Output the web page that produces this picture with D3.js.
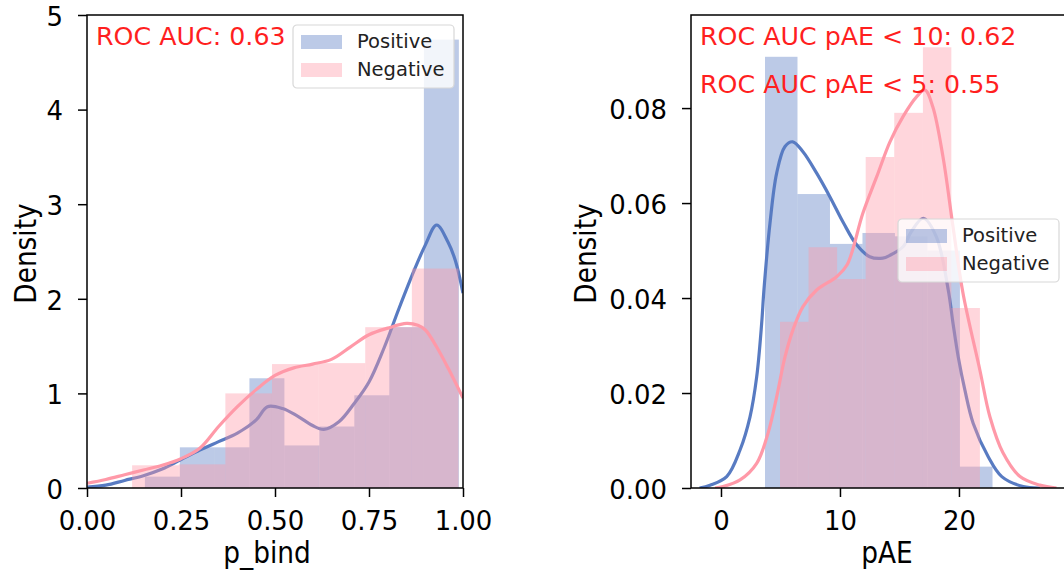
<!DOCTYPE html>
<html>
<head>
<meta charset="utf-8">
<script src="https://cdn.jsdelivr.net/npm/d3@7"></script>
<style>
  body { margin: 0; background: #fff; }
  text { font-family: "DejaVu Sans", sans-serif; }
</style>
</head>
<body>
<svg id="fig" width="1064" height="578"></svg>
<script>
// ---- p_bind panel: histogram bins (edges) and densities ----
const pbindPosEdges = [0.154, 0.247, 0.340, 0.432, 0.525, 0.618, 0.711, 0.804, 0.896, 0.989];
const pbindPosDensity = [0.12, 0.43, 0.43, 1.16, 0.45, 0.65, 0.98, 1.70, 4.74];
const pbindNegEdges = [0.120, 0.244, 0.368, 0.492, 0.616, 0.740, 0.864, 0.988];
const pbindNegDensity = [0.24, 0.25, 1.00, 1.31, 1.32, 1.70, 2.32];

// p_bind KDE curves
const pbindPosKdeX = [0, 0.05, 0.1, 0.15, 0.2, 0.25, 0.3, 0.35, 0.4, 0.45, 0.48, 0.52, 0.56, 0.6, 0.63, 0.67, 0.71, 0.75, 0.79, 0.83, 0.87, 0.9, 0.93, 0.96, 0.98, 1.0];
const pbindPosKdeY = [0.01, 0.03, 0.08, 0.13, 0.2, 0.3, 0.4, 0.49, 0.58, 0.72, 0.86, 0.84, 0.76, 0.66, 0.62, 0.70, 0.89, 1.12, 1.48, 1.9, 2.3, 2.57, 2.78, 2.6, 2.4, 2.06];
const pbindNegKdeX = [0, 0.05, 0.1, 0.15, 0.2, 0.25, 0.3, 0.35, 0.4, 0.45, 0.5, 0.55, 0.6, 0.65, 0.7, 0.75, 0.8, 0.85, 0.88, 0.9, 0.93, 0.96, 1.0];
const pbindNegKdeY = [0.05, 0.09, 0.14, 0.19, 0.24, 0.31, 0.42, 0.65, 0.86, 1.04, 1.19, 1.27, 1.31, 1.36, 1.49, 1.62, 1.69, 1.74, 1.72, 1.67, 1.49, 1.27, 0.95];

// ---- pAE panel: histogram bins (edges) and densities ----
const paePosEdges = [3.70, 6.43, 9.16, 11.89, 14.62, 17.35, 20.08, 22.82];
const paePosDensity = [0.0908, 0.0619, 0.0514, 0.0537, 0.0530, 0.0500, 0.0045];
const paeNegEdges = [4.96, 7.36, 9.76, 12.16, 14.56, 16.97, 19.36, 21.76];
const paeNegDensity = [0.0350, 0.0507, 0.0440, 0.0697, 0.0790, 0.0928, 0.0379];

// pAE KDE curves
const paePosKdeX = [-1.8, -0.92, 0.48, 1.6, 2.44, 3.0, 3.42, 3.61, 4.12, 4.68, 5.38, 6.03, 6.89, 8.04, 9.16, 10.3, 11.4, 12.5, 13.6, 14.2, 15.3, 16.0, 17.0, 18.1, 19.1, 19.5, 19.94, 20.5, 21.2, 22.46, 23.6, 25.4, 26.8];
const paePosKdeY = [0, 0.0006, 0.0024, 0.008, 0.015, 0.0234, 0.0347, 0.0417, 0.0558, 0.0663, 0.0719, 0.0729, 0.0708, 0.0663, 0.0613, 0.0558, 0.0512, 0.0487, 0.0484, 0.049, 0.0508, 0.054, 0.0568, 0.0529, 0.0417, 0.0347, 0.0276, 0.0206, 0.0136, 0.0066, 0.0024, 0.0003, 0];
const paeNegKdeX = [-0.5, 0.17, 1.6, 3.0, 3.95, 4.68, 5.38, 6.05, 6.89, 8.04, 9.72, 10.6, 11.93, 13.08, 14.2, 15.3, 16.45, 17.14, 17.8, 18.66, 19.5, 20.34, 21.76, 22.6, 23.7, 25.13, 26.8, 28.2];
const paeNegKdeY = [0, 0.0003, 0.0017, 0.0052, 0.0115, 0.0192, 0.0276, 0.0333, 0.0382, 0.0417, 0.0445, 0.047, 0.0579, 0.0655, 0.0729, 0.0782, 0.0824, 0.0838, 0.0803, 0.0697, 0.055, 0.041, 0.0248, 0.015, 0.0074, 0.0024, 0.0006, 0];

// ticks and labels
const pbindXTicks = [0, 0.25, 0.5, 0.75, 1.0];
const pbindYTicks = [0, 1, 2, 3, 4, 5];
const paeXTicks = [0, 10, 20];
const paeYTicks = [0, 0.02, 0.04, 0.06, 0.08];
const seriesNames = ["Positive", "Negative"];
const pbindNotes = ["ROC AUC: 0.63"];
const paeNotes = ["ROC AUC pAE < 10: 0.62", "ROC AUC pAE < 5: 0.55"];

const posColor = "#587bc2";
const negColor = "#ff99a8";
const noteColor = "#ff1f1f";
const tickFont = 27;      // tick label size
const titleFont = 30;     // axis title size
const narrow = 0.88;      // horizontal squeeze of axis titles
const tickNarrow = 0.96;  // horizontal squeeze of tick labels

const svg = d3.select("#fig");
svg.append("rect").attr("width", 1064).attr("height", 578).attr("fill", "#fff");

// squeeze a text element horizontally by a fixed factor
function squeeze(sel, k) {
  sel.each(function () {
    const len = this.getComputedTextLength();
    d3.select(this).attr("textLength", len * k).attr("lengthAdjust", "spacingAndGlyphs");
  });
}

function panel(opts) {
  const { left, right, top, bottom, xDomain, yDomain, id } = opts;
  const x = d3.scaleLinear().domain(xDomain).range([left, right]);
  const y = d3.scaleLinear().domain(yDomain).range([bottom, top]);
  const g = svg.append("g");

  svg.append("clipPath").attr("id", id)
    .append("rect").attr("x", left).attr("y", top)
    .attr("width", right - left).attr("height", bottom - top);
  const plot = g.append("g").attr("clip-path", `url(#${id})`);

  const bars = (edges, dens, color) => {
    plot.append("g").selectAll("rect")
      .data(dens.map((d, i) => ({ x0: edges[i], x1: edges[i + 1], d })))
      .join("rect")
      .attr("x", d => x(d.x0))
      .attr("width", d => x(d.x1) - x(d.x0))
      .attr("y", d => y(d.d))
      .attr("height", d => y(0) - y(d.d))
      .attr("fill", color).attr("fill-opacity", 0.4);
  };
  const curve = (xs, ys, color) => {
    const line = d3.line().x(d => x(d[0])).y(d => y(d[1])).curve(d3.curveCatmullRom.alpha(0.5));
    plot.append("path").datum(xs.map((v, i) => [v, ys[i]]))
      .attr("d", line).attr("fill", "none")
      .attr("stroke", color).attr("stroke-width", 3.2).attr("stroke-linejoin", "round");
  };

  bars(opts.posEdges, opts.posDens, posColor);
  curve(opts.posKx, opts.posKy, posColor);
  bars(opts.negEdges, opts.negDens, negColor);
  curve(opts.negKx, opts.negKy, negColor);

  // axes
  const xAxis = g.append("g").attr("transform", `translate(0,${bottom})`)
    .call(d3.axisBottom(x).tickValues(opts.xTicks).tickFormat(opts.xFmt).tickSize(9).tickPadding(11));
  const yAxis = g.append("g").attr("transform", `translate(${left},0)`)
    .call(d3.axisLeft(y).tickValues(opts.yTicks).tickFormat(opts.yFmt).tickSize(9).tickPadding(15));
  [xAxis, yAxis].forEach(a => {
    a.select(".domain").remove();
    a.selectAll(".tick line").attr("stroke", "#000").attr("stroke-width", 1.5);
    a.selectAll(".tick text").attr("fill", "#000").style("font-size", tickFont + "px")
      .style("font-family", '"DejaVu Sans", sans-serif');
    squeeze(a.selectAll(".tick text"), tickNarrow);
  });
  xAxis.selectAll(".tick text").attr("dy", "0.8em");
  yAxis.selectAll(".tick text").attr("dy", "0.38em");

  // frame
  g.append("rect").attr("x", left).attr("y", top)
    .attr("width", right - left).attr("height", bottom - top)
    .attr("fill", "none").attr("stroke", "#000").attr("stroke-width", 1.5);

  // axis titles
  const xt = g.append("text").attr("x", (left + right) / 2 + opts.xLabelShift).attr("y", 563)
    .attr("text-anchor", "middle").style("font-size", titleFont + "px").text(opts.xLabel);
  const yt = g.append("text").attr("transform", `translate(${opts.yLabelX},${(top + bottom) / 2 + 2}) rotate(-90)`)
    .attr("text-anchor", "middle").style("font-size", titleFont + "px").text("Density");
  squeeze(xt, narrow);
  squeeze(yt, narrow);

  // annotations
  opts.notes.forEach((t, i) => {
    g.append("text").attr("x", left + 9).attr("y", 45 + i * 48)
      .attr("fill", noteColor).style("font-size", "25.3px").text(t);
  });

  // legend
  const L = opts.legend;
  const lg = g.append("g").attr("transform", `translate(${L.x},${L.y})`);
  lg.append("rect").attr("width", 161).attr("height", 63).attr("rx", 4)
    .attr("fill", "#fff").attr("fill-opacity", 0.8).attr("stroke", "#d8d8d8").attr("stroke-width", 1.2);
  [posColor, negColor].forEach((c, i) => {
    lg.append("rect").attr("x", 8).attr("y", 10 + i * 28).attr("width", 41).attr("height", 14)
      .attr("fill", c).attr("fill-opacity", 0.4);
    lg.append("text").attr("x", 64).attr("y", 23 + i * 28)
      .attr("fill", "#222").style("font-size", "19.5px").text(seriesNames[i]);
  });
  return { x, y };
}

panel({
  id: "clipA", left: 87, right: 463, top: 15, bottom: 488,
  xDomain: [0, 1], yDomain: [0, 5],
  posEdges: pbindPosEdges, posDens: pbindPosDensity,
  negEdges: pbindNegEdges, negDens: pbindNegDensity,
  posKx: pbindPosKdeX, posKy: pbindPosKdeY, negKx: pbindNegKdeX, negKy: pbindNegKdeY,
  xTicks: pbindXTicks, yTicks: pbindYTicks,
  xFmt: d3.format(".2f"), yFmt: d3.format("d"),
  xLabel: "p_bind", xLabelShift: -8, yLabelX: 36, notes: pbindNotes,
  legend: { x: 293, y: 25 }
});

panel({
  id: "clipB", left: 691, right: 1067, top: 15, bottom: 488,
  xDomain: [-2.52, 29.08], yDomain: [0, 0.0996],
  posEdges: paePosEdges, posDens: paePosDensity,
  negEdges: paeNegEdges, negDens: paeNegDensity,
  posKx: paePosKdeX, posKy: paePosKdeY, negKx: paeNegKdeX, negKy: paeNegKdeY,
  xTicks: paeXTicks, yTicks: paeYTicks,
  xFmt: d3.format("d"), yFmt: d3.format(".2f"),
  xLabel: "pAE", xLabelShift: 8, yLabelX: 596, notes: paeNotes,
  legend: { x: 898, y: 219 }
});
</script>
</body>
</html>
